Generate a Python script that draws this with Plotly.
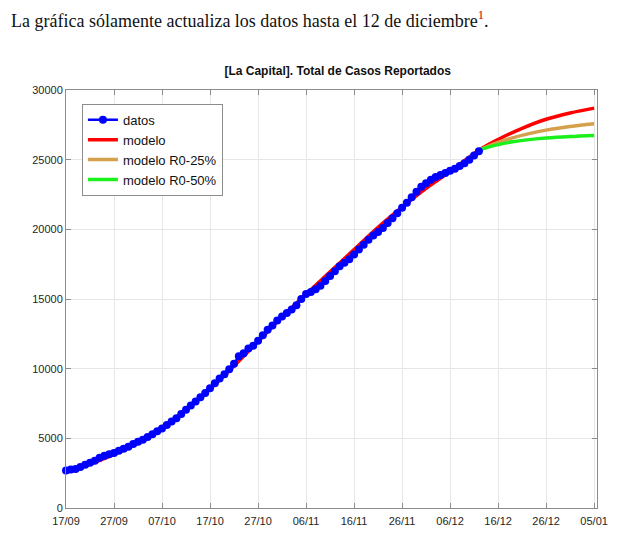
import pandas as pd
import plotly.graph_objects as go

# datos diarios desde el 17/09/2020 hasta el 12/12/2020
inicio = "2020-09-17"
casos = [2700, 2760, 2800, 2950, 3100, 3250, 3400, 3600, 3750, 3850,
         3950, 4100, 4250, 4400, 4600, 4750, 4900, 5100, 5300, 5500,
         5700, 5950, 6200, 6450, 6750, 7050, 7350, 7650, 7950, 8250,
         8600, 8950, 9300, 9600, 9950, 10350, 10900, 11100, 11450, 11650,
         12000, 12400, 12800, 13100, 13450, 13750, 14000, 14250, 14550, 15000,
         15350, 15500, 15700, 15950, 16300, 16650, 17000, 17350, 17600, 17850,
         18200, 18550, 18900, 19250, 19550, 19800, 20100, 20450, 20800, 21150,
         21550, 21900, 22300, 22700, 23050, 23300, 23550, 23750, 23900, 24050,
         24200, 24350, 24550, 24750, 25000, 25300, 25600]

# modelo (dias desde el inicio)
dias_modelo = [0, 5, 10, 15, 20, 25, 30, 35, 40, 45, 50, 55, 60, 65, 70, 75,
               80, 86, 90, 95, 100, 105, 110]
modelo = [2550, 3150, 3850, 4700, 5800, 7050, 8550, 10200, 11950, 13700,
          15350, 16950, 18550, 20150, 21600, 22950, 24150, 25680, 26450,
          27250, 27900, 28350, 28700]

# escenarios a partir del 12/12
dias_esc = [86, 88, 90, 93, 96, 100, 105, 110]
modelo_25 = [25680, 25980, 26230, 26560, 26830, 27120, 27380, 27580]
modelo_50 = [25680, 25900, 26080, 26280, 26420, 26550, 26660, 26740]

t0 = pd.Timestamp(inicio)
fechas = pd.date_range(inicio, periods=len(casos), freq="D")
f_modelo = [t0 + pd.Timedelta(days=d) for d in dias_modelo]
f_esc = [t0 + pd.Timedelta(days=d) for d in dias_esc]

fig = go.Figure()
fig.add_trace(go.Scatter(x=f_modelo, y=modelo, mode="lines", name="modelo",
                         line=dict(color="#ff0000", width=3.5, shape="spline"),
                         legendrank=2))
fig.add_trace(go.Scatter(x=f_esc, y=modelo_25, mode="lines", name="modelo R0-25%",
                         line=dict(color="#d4a04c", width=3.5, shape="spline"),
                         legendrank=3))
fig.add_trace(go.Scatter(x=f_esc, y=modelo_50, mode="lines", name="modelo R0-50%",
                         line=dict(color="#1cf01c", width=3.5, shape="spline"),
                         legendrank=4))
fig.add_trace(go.Scatter(x=fechas, y=casos, mode="lines+markers", name="datos",
                         line=dict(color="#0000ff", width=2.5),
                         marker=dict(color="#0000ff", size=8),
                         cliponaxis=False, legendrank=1))

# la pagina deja 8 px de margen alrededor de la figura
fig.update_layout(
    width=634, height=531,
    margin=dict(l=58, r=45, t=82, b=31),
    paper_bgcolor="white", plot_bgcolor="white",
    font=dict(family="Liberation Sans, Arial, sans-serif", size=11, color="#262626"),
    title=dict(text="<b>[La Capital]. Total de Casos Reportados</b>",
               x=0.52, xanchor="center", y=0.882, yanchor="middle",
               font=dict(size=12, color="#111111")),
    showlegend=True,
    legend=dict(x=0.03, y=0.967, xanchor="left", yanchor="top",
                bgcolor="white", bordercolor="#8c8c8c", borderwidth=1,
                font=dict(size=13, color="#111111"), tracegroupgap=0),
)

fig.update_xaxes(
    range=[t0, t0 + pd.Timedelta(days=110.6)],
    tick0=inicio, dtick=10 * 86400000, tickformat="%d/%m",
    showgrid=True, gridcolor="#e6e6e6", gridwidth=1,
    showline=True, linecolor="#8c8c8c", linewidth=1, mirror="ticks",
    ticks="inside", ticklen=5, tickcolor="#8c8c8c",
    ticklabelstandoff=3, zeroline=False,
)
fig.update_yaxes(
    range=[0, 30000], dtick=5000, tickformat="d",
    showgrid=True, gridcolor="#e6e6e6", gridwidth=1,
    showline=True, linecolor="#8c8c8c", linewidth=1, mirror="ticks",
    ticks="inside", ticklen=5, tickcolor="#8c8c8c",
    zeroline=False,
)

fig.add_annotation(
    text="La gráfica sólamente actualiza los datos hasta el 12 de diciembre"
         "<sup><span style='color:#d00000'>1</span></sup>.",
    xref="paper", yref="paper", x=-0.107, y=1.168,
    xanchor="left", yanchor="middle", showarrow=False,
    font=dict(family="Liberation Serif, serif", size=18, color="#111111"),
)

fig.write_html("out.html")
